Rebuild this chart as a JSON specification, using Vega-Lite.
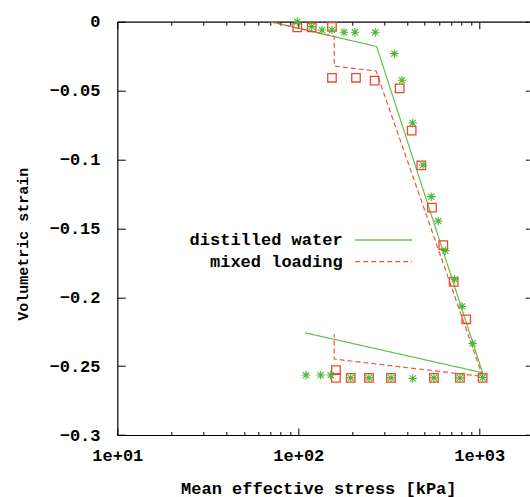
{
  "$schema": "https://vega.github.io/schema/vega-lite/v6.json",
  "width": 412,
  "height": 413.3,
  "autosize": {"type": "none"},
  "padding": {"left": 117.3, "top": 21.7, "right": 0.7, "bottom": 62},
  "background": "white",
  "config": {
    "view": {"stroke": null},
    "font": "Liberation Mono",
    "axis": {
      "labelFont": "Liberation Mono",
      "titleFont": "Liberation Mono",
      "labelFontSize": 17,
      "titleFontSize": 17,
      "labelFontWeight": "bold",
      "titleFontWeight": "bold",
      "labelColor": "black",
      "titleColor": "black",
      "domainColor": "black",
      "domainWidth": 1.2,
      "tickColor": "black",
      "tickWidth": 1,
      "grid": false
    },
    "legend": {
      "orient": "none",
      "legendX": 257.8,
      "legendY": 209.8,
      "title": null,
      "padding": 0,
      "rowPadding": 3.7,
      "labelAlign": "right",
      "labelOffset": -49.5,
      "labelLimit": 400,
      "labelFont": "Liberation Mono",
      "labelFontSize": 17,
      "labelFontWeight": "bold",
      "labelColor": "black",
      "symbolType": "M-6,0L6,0",
      "symbolSize": 90,
      "symbolStrokeWidth": 1.3
    }
  },
  "datasets": {
    "lines": [
      {"s": "distilled water", "i": 1, "p": 70, "e": 0},
      {"s": "distilled water", "i": 2, "p": 271, "e": -0.018},
      {"s": "distilled water", "i": 3, "p": 1043, "e": -0.2548},
      {"s": "distilled water", "i": 4, "p": 109, "e": -0.2258},
      {"s": "mixed loading", "i": 1, "p": 70, "e": 0},
      {"s": "mixed loading", "i": 2, "p": 158, "e": -0.0107},
      {"s": "mixed loading", "i": 3, "p": 158, "e": -0.0322},
      {"s": "mixed loading", "i": 4, "p": 269, "e": -0.0358},
      {"s": "mixed loading", "i": 5, "p": 1045, "e": -0.2575},
      {"s": "mixed loading", "i": 6, "p": 158, "e": -0.2449},
      {"s": "mixed loading", "i": 7, "p": 158, "e": -0.2267}
    ],
    "squares": [
      {"p": 98.7, "e": -0.0041},
      {"p": 118.6, "e": -0.0041},
      {"p": 153.5, "e": -0.0038},
      {"p": 153.5, "e": -0.0407},
      {"p": 208.4, "e": -0.0407},
      {"p": 264.3, "e": -0.0428},
      {"p": 363.2, "e": -0.0484},
      {"p": 423.2, "e": -0.0791},
      {"p": 478.3, "e": -0.1043},
      {"p": 547.9, "e": -0.135},
      {"p": 632.5, "e": -0.1621},
      {"p": 722.1, "e": -0.1888},
      {"p": 847.5, "e": -0.216},
      {"p": 1044, "e": -0.2585},
      {"p": 161.5, "e": -0.2529},
      {"p": 161.5, "e": -0.2585},
      {"p": 194.8, "e": -0.2585},
      {"p": 245.8, "e": -0.2585},
      {"p": 325.2, "e": -0.2585},
      {"p": 561.9, "e": -0.2585},
      {"p": 782.3, "e": -0.2585}
    ],
    "stars": [
      {"p": 98.7, "e": 0.0},
      {"p": 118.6, "e": -0.0036},
      {"p": 135.2, "e": -0.006},
      {"p": 153.5, "e": -0.006},
      {"p": 178.9, "e": -0.0077},
      {"p": 205.8, "e": -0.0077},
      {"p": 266.3, "e": -0.0077},
      {"p": 339.2, "e": -0.0232},
      {"p": 374.1, "e": -0.0425},
      {"p": 428.6, "e": -0.0735},
      {"p": 488.6, "e": -0.104},
      {"p": 543, "e": -0.127},
      {"p": 593.6, "e": -0.1447},
      {"p": 648.7, "e": -0.1662},
      {"p": 731.4, "e": -0.187},
      {"p": 802.5, "e": -0.2066},
      {"p": 919.3, "e": -0.2335},
      {"p": 1044, "e": -0.2583},
      {"p": 110.3, "e": -0.2565},
      {"p": 133, "e": -0.2565},
      {"p": 151, "e": -0.2565},
      {"p": 194.8, "e": -0.2585},
      {"p": 245.8, "e": -0.2585},
      {"p": 325.2, "e": -0.2585},
      {"p": 428.6, "e": -0.259},
      {"p": 561.9, "e": -0.2585},
      {"p": 782.3, "e": -0.2585}
    ]
  },
  "layer": [
    {
      "data": {"name": "lines"},
      "mark": {"type": "line", "strokeWidth": 1.2, "clip": true},
      "encoding": {
        "x": {
          "field": "p", "type": "quantitative",
          "scale": {"type": "log", "domain": [10, 1890], "nice": false},
          "axis": {
            "orient": "bottom",
            "values": [10, 20, 30, 40, 50, 60, 70, 80, 90, 100, 200, 300, 400, 500, 600, 700, 800, 900, 1000],
            "labelExpr": "datum.value==10?'1e+01':datum.value==100?'1e+02':datum.value==1000?'1e+03':''",
            "tickSize": {"condition": {"test": "datum.value==10||datum.value==100||datum.value==1000", "value": -7}, "value": -3.5},
            "labelPadding": 19,
            "labelOverlap": false,
            "labelFlush": false,
            "title": "Mean effective stress [kPa]",
            "titleX": 201,
            "titleY": 53,
            "titleBaseline": "middle"
          }
        },
        "y": {
          "field": "e", "type": "quantitative",
          "scale": {"domain": [-0.3, 0], "nice": false, "zero": false},
          "axis": {
            "orient": "left",
            "values": [0, -0.05, -0.1, -0.15, -0.2, -0.25, -0.3],
            "format": "~g",
            "tickSize": -8,
            "labelPadding": 25.3,
            "labelOverlap": false,
            "labelFlush": false,
            "title": "Volumetric strain",
            "titleFontSize": 15,
            "titleX": -95,
            "titleY": 222,
            "titleBaseline": "middle"
          }
        },
        "order": {"field": "i"},
        "color": {
          "field": "s", "type": "nominal",
          "scale": {"domain": ["distilled water", "mixed loading"], "range": ["#5ec34a", "#f5543a"]}
        },
        "strokeDash": {
          "field": "s", "type": "nominal",
          "scale": {"domain": ["distilled water", "mixed loading"], "range": [[1, 0], [5, 3]]}
        }
      }
    },
    {
      "data": {"name": "squares"},
      "mark": {"type": "point", "shape": "square", "filled": false, "size": 72, "strokeWidth": 1.3, "color": "#f04828", "opacity": 1},
      "encoding": {
        "x": {
          "field": "p", "type": "quantitative",
          "axis": {
            "orient": "top",
            "values": [10, 20, 30, 40, 50, 60, 70, 80, 90, 100, 200, 300, 400, 500, 600, 700, 800, 900, 1000],
            "labels": false,
            "tickSize": {"condition": {"test": "datum.value==10||datum.value==100||datum.value==1000", "value": -7}, "value": -3.5},
            "title": null
          }
        },
        "y": {
          "field": "e", "type": "quantitative",
          "axis": {
            "orient": "right",
            "values": [0, -0.05, -0.1, -0.15, -0.2, -0.25, -0.3],
            "labels": false,
            "domain": false,
            "tickSize": -4,
            "title": null
          }
        }
      }
    },
    {
      "data": {"name": "stars"},
      "mark": {"type": "point", "shape": "M-1,0L1,0M0,-1L0,1M-0.72,-0.72L0.72,0.72M-0.72,0.72L0.72,-0.72", "filled": false, "size": 72, "strokeWidth": 1.1, "color": "#4cb535", "opacity": 1},
      "encoding": {
        "x": {"field": "p", "type": "quantitative", "axis": null},
        "y": {"field": "e", "type": "quantitative", "axis": null}
      }
    }
  ],
  "resolve": {"axis": {"x": "independent", "y": "independent"}}
}
